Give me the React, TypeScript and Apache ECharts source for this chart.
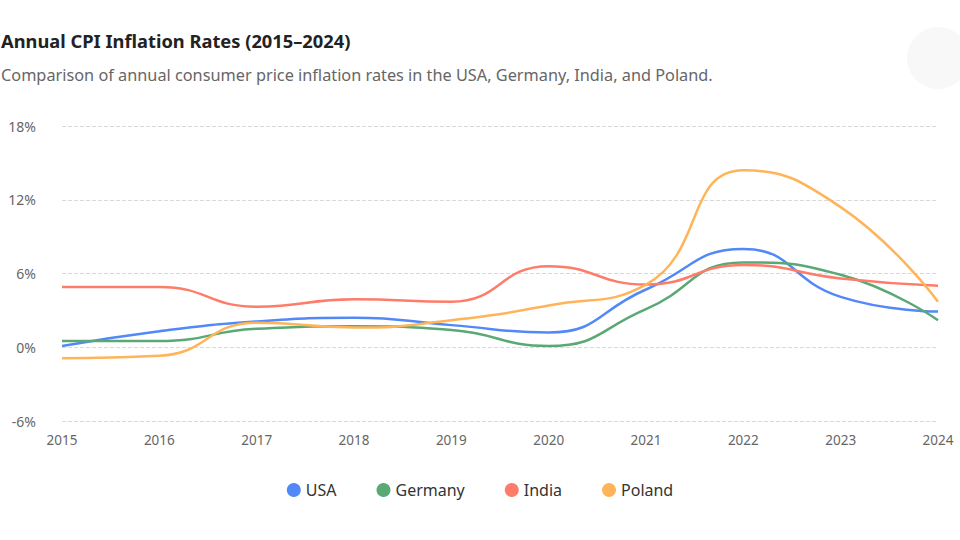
import React, { useEffect, useRef } from "react";
import * as echarts from "echarts";

const years = ["2015", "2016", "2017", "2018", "2019", "2020", "2021", "2022", "2023", "2024"];
const usa = [0.1, 1.3, 2.1, 2.4, 1.8, 1.2, 4.7, 8.0, 4.1, 2.9];
const germany = [0.5, 0.5, 1.5, 1.7, 1.4, 0.1, 3.1, 6.9, 5.9, 2.2];
const india = [4.9, 4.9, 3.3, 3.9, 3.7, 6.6, 5.1, 6.7, 5.6, 5.0];
const poland = [-0.9, -0.7, 2.0, 1.6, 2.2, 3.4, 5.1, 14.4, 11.4, 3.7];
const seriesNames = ["USA", "Germany", "India", "Poland"];
const colors = ["#5288f8", "#5aa874", "#fd7d6a", "#ffb45a"];

const FONT = "'Noto Sans', 'Open Sans', sans-serif";

export default function App() {
  const ref = useRef<HTMLDivElement>(null);
  useEffect(() => {
    if (!ref.current) return;
    const chart = echarts.init(ref.current, null, { renderer: "svg" });
    const data = [usa, germany, india, poland];
    chart.setOption({
      animation: false,
      backgroundColor: "#ffffff",
      textStyle: { fontFamily: FONT },
      graphic: [
        { type: "circle", shape: { cx: 938, cy: 58, r: 31 }, style: { fill: "#f8f8f8" }, silent: true },
      ],
      title: {
        text: "Annual CPI Inflation Rates (2015–2024)",
        subtext: "Comparison of annual consumer price inflation rates in the USA, Germany, India, and Poland.",
        left: -4,
        top: 26,
        itemGap: 18,
        textStyle: { fontFamily: FONT, fontSize: 18.3, fontWeight: "bold", color: "#222" },
        subtextStyle: { fontFamily: FONT, fontSize: 16.3, color: "#666" },
      },
      legend: {
        data: seriesNames,
        bottom: 37,
        left: "center",
        icon: "circle",
        itemWidth: 14,
        itemHeight: 14,
        itemGap: 40,
        textStyle: { fontFamily: FONT, fontSize: 16, color: "#333" },
      },
      grid: { left: 62, right: 22, top: 126, bottom: 119, containLabel: false },
      xAxis: {
        type: "category",
        data: years,
        boundaryGap: false,
        axisLine: { show: false },
        axisTick: { show: false },
        axisLabel: { color: "#666", fontSize: 13.5, margin: 12, fontFamily: FONT },
      },
      yAxis: {
        type: "value",
        min: -6,
        max: 18,
        interval: 6,
        axisLine: { show: false },
        axisTick: { show: false },
        axisLabel: { formatter: "{value}%", color: "#666", fontSize: 14, margin: 26, fontFamily: FONT },
        splitLine: { lineStyle: { type: "dashed", color: "#d9d9d9" } },
      },
      series: seriesNames.map((name, i) => ({
        name,
        type: "line",
        data: data[i],
        smooth: true,
        showSymbol: false,
        symbol: "none",
        lineStyle: { width: 2.5, color: colors[i] },
        itemStyle: { color: colors[i] },
      })),
    });
    return () => chart.dispose();
  }, []);
  return <div ref={ref} style={{ position: "fixed", left: 0, top: 0, width: 960, height: 540 }} />;
}
